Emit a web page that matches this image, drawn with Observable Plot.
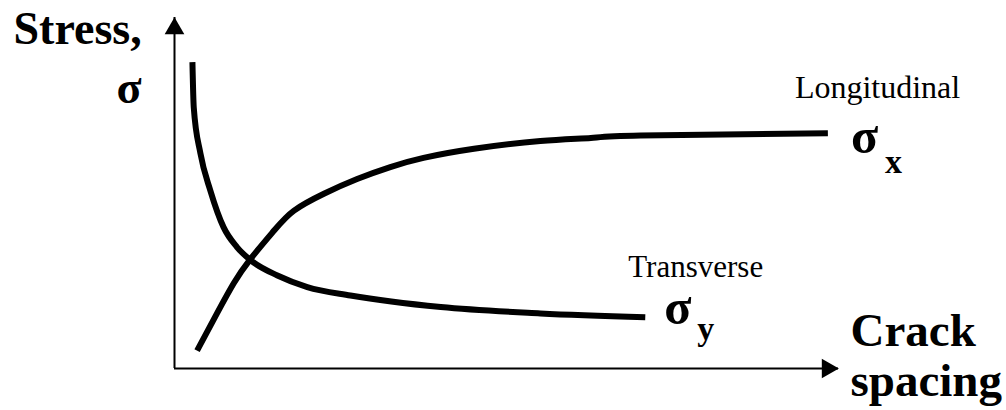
<!DOCTYPE html>
<html><head><meta charset="utf-8">
<script src="https://cdn.jsdelivr.net/npm/d3@7"></script>
<script src="https://cdn.jsdelivr.net/npm/@observablehq/plot@0.6"></script>
<style>body{margin:0;background:#fff}</style>
</head><body><div id="chart"></div>
<script>
// Longitudinal stress σx vs crack spacing (schematic units)
const spacingL = [0.34, 0.64, 0.89, 1.14, 1.50, 1.80, 2.25, 2.75, 3.25, 3.75, 4.51, 5.51, 6.27, 7.02, 9.84];
const stressL  = [0.51, 1.57, 2.42, 3.11, 3.93, 4.50, 4.98, 5.40, 5.74, 6.00, 6.26, 6.48, 6.57, 6.64, 6.70];
// Transverse stress σy vs crack spacing
const spacingT = [0.27, 0.29, 0.39, 0.54, 0.74, 0.94, 1.15, 1.55, 2.00, 2.65, 4.01, 5.51, 7.09];
const stressT  = [8.73, 7.44, 6.13, 5.07, 4.02, 3.46, 3.08, 2.65, 2.32, 2.08, 1.75, 1.57, 1.46];
const axisMax = 10;
const labels = {y: "Stress,", ySym: "σ", x1: "Crack", x2: "spacing", long: "Longitudinal", trans: "Transverse", sig: "σ", subX: "x", subY: "y"};

const L = spacingL.map((x, i) => ({x, y: stressL[i]}));
const T = spacingT.map((x, i) => ({x, y: stressT[i]}));
const endL = [L[L.length - 1]];
const endT = [T[T.length - 1]];
const origin = [{x: 0, y: 0}];
const yTip = [{x: 0, y: axisMax}];
const xTip = [{x: axisMax, y: 0}];

const serif = "Liberation Serif, Times New Roman, serif";
const big = {fontFamily: serif, fontWeight: "bold", fontSize: 47, textAnchor: "start", lineAnchor: "bottom", fill: "black"};
const small = {fontFamily: serif, fontWeight: "normal", fontSize: 32, textAnchor: "start", lineAnchor: "bottom", fill: "black"};

const chart = Plot.plot({
  width: 1006, height: 410,
  marginLeft: 174, marginRight: 168, marginTop: 17, marginBottom: 42,
  x: {domain: [0, axisMax], axis: null},
  y: {domain: [0, axisMax], axis: null},
  style: {background: "white"},
  marks: [
    Plot.ruleX(origin, {x: "x", y1: 0, y2: axisMax, stroke: "black", strokeWidth: 2}),
    Plot.ruleY(origin, {y: "y", x1: 0, x2: axisMax, stroke: "black", strokeWidth: 2}),
    Plot.dot(yTip, {x: "x", y: "y", symbol: "triangle", r: 7.3, fill: "black", stroke: null, dy: 11}),
    Plot.dot(xTip, {x: "x", y: "y", symbol: "triangle", r: 7.3, fill: "black", stroke: null, rotate: 90, dx: -11}),
    Plot.line(L, {x: "x", y: "y", curve: "natural", stroke: "black", strokeWidth: 6, strokeLinecap: "butt"}),
    Plot.line(T, {x: "x", y: "y", curve: "monotone-x", stroke: "black", strokeWidth: 6, strokeLinecap: "butt"}),
    // axis titles
    Plot.text(yTip, {x: "x", y: "y", text: () => labels.y, dx: -161, dy: 26, ...big, fontSize: 46}),
    Plot.text(yTip, {x: "x", y: "y", text: () => labels.ySym, dx: -58, dy: 85, ...big, fontSize: 46}),
    Plot.text(xTip, {x: "x", y: "y", text: () => labels.x1, dx: 12, dy: -23, ...big}),
    Plot.text(xTip, {x: "x", y: "y", text: () => labels.x2, dx: 12, dy: 27, ...big}),
    // curve labels
    Plot.text(endL, {x: "x", y: "y", text: () => labels.long, dx: -33, dy: -35, ...small}),
    Plot.text(endL, {x: "x", y: "y", text: () => labels.sig, dx: 23, dy: 20, ...big, fontSize: 50}),
    Plot.text(endL, {x: "x", y: "y", text: () => labels.subX, dx: 57, dy: 40, ...big, fontSize: 34}),
    Plot.text(endT, {x: "x", y: "y", text: () => labels.trans, dx: -17, dy: -40, ...small, fontSize: 31}),
    Plot.text(endT, {x: "x", y: "y", text: () => labels.sig, dx: 19, dy: 7, ...big, fontSize: 50}),
    Plot.text(endT, {x: "x", y: "y", text: () => labels.subY, dx: 52, dy: 23, ...big, fontSize: 34})
  ]
});
document.getElementById("chart").appendChild(chart);
</script>
</body></html>
